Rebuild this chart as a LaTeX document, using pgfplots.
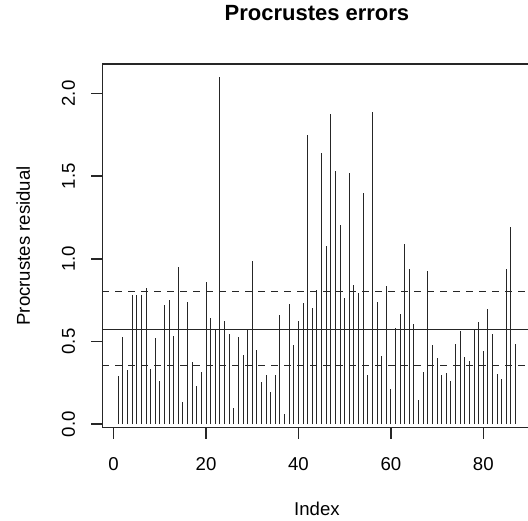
\documentclass[border=0pt]{standalone}
\usepackage{fontspec}
\setmainfont{Liberation Sans}
\usepackage{pgfplots}
\pgfplotsset{compat=1.18}

% Procrustes residuals, one value per index
\pgfplotstableread{
idx res
1 0.292
2 0.526
3 0.328
4 0.781
5 0.781
6 0.781
7 0.822
8 0.334
9 0.524
10 0.262
11 0.721
12 0.751
13 0.534
14 0.951
15 0.135
16 0.737
17 0.375
18 0.232
19 0.316
20 0.858
21 0.640
22 0.570
23 2.097
24 0.624
25 0.548
26 0.097
27 0.530
28 0.419
29 0.574
30 0.985
31 0.449
32 0.252
33 0.300
34 0.193
35 0.300
36 0.661
37 0.060
38 0.725
39 0.479
40 0.624
41 0.735
42 1.752
43 0.701
44 0.812
45 1.641
46 1.078
47 1.875
48 1.529
49 1.204
50 0.765
51 1.517
52 0.844
53 0.796
54 1.398
55 0.296
56 1.887
57 0.737
58 0.413
59 0.836
60 0.213
61 0.584
62 0.665
63 1.088
64 0.939
65 0.606
66 0.143
67 0.316
68 0.924
69 0.477
70 0.403
71 0.296
72 0.308
73 0.258
74 0.485
75 0.566
76 0.409
77 0.383
78 0.570
79 0.616
80 0.445
81 0.699
82 0.546
83 0.304
84 0.272
85 0.939
86 1.194
87 0.483
}\residuals

\begin{document}
\fontsize{18.6}{22}\selectfont
\begin{tikzpicture}
\begin{axis}[
    at={(0,0)}, anchor=south west,
    scale only axis,
    width=429.1pt, height=363.7pt,
    xmin=-2.44, xmax=90.44,
    ymin=-0.0215, ymax=2.1785,
    axis line style={line width=1.4pt, black!85},
    xtick={0,20,40,60,80},
    ytick={0,0.5,1,1.5,2},
    tick pos=left, tick align=outside,
    major tick length=11pt,
    tick style={line width=1.4pt, black!85},
    /pgf/number format/assume math mode=true,
    yticklabel style={/pgf/number format/fixed, /pgf/number format/fixed zerofill,
        /pgf/number format/precision=1, rotate=90, anchor=base, inner sep=0pt},
    xticklabel style={anchor=base, inner sep=0pt},
    xticklabel shift=31.5pt,
    yticklabel shift=16.6pt,
    title={Procrustes errors},
    title style={font=\bfseries\fontsize{22}{26}\selectfont,
        at={(rel axis cs:0.5,1)}, anchor=base, yshift=37pt, inner sep=0pt},
    xlabel={Index},
    xlabel style={at={(rel axis cs:0.5,0)}, anchor=base, yshift=-88.3pt, inner sep=0pt},
    ylabel={Procrustes residual},
    ylabel style={at={([xshift=-72.4pt]rel axis cs:0,0.5)}, anchor=base, inner sep=0pt},
]
\addplot[ycomb, black!85, line width=1pt, no markers] table[x=idx, y=res] {\residuals};
\addplot[black!85, line width=1pt] coordinates {(-2.44,0.570) (90.44,0.570)};
\addplot[black!85, line width=1pt, dash pattern=on 6.5pt off 6.5pt] coordinates {(-2.44,0.805) (90.44,0.805)};
\addplot[black!85, line width=1pt, dash pattern=on 6.5pt off 6.5pt] coordinates {(-2.44,0.354) (90.44,0.354)};
\end{axis}
\pgfresetboundingbox
\useasboundingbox (-102.4pt,-93.3pt) rectangle (425.6pt,427.7pt);
\end{tikzpicture}
\end{document}
